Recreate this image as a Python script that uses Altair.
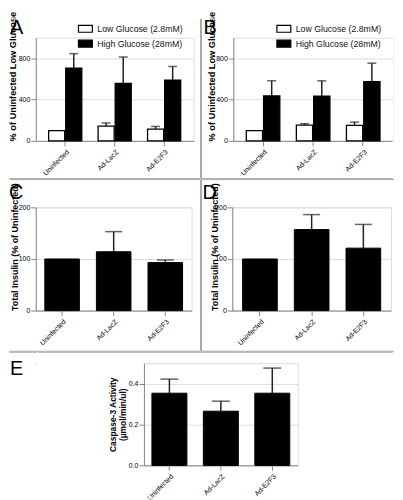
import altair as alt
import pandas as pd

GROUPS = ["Uninfected", "Ad-LacZ", "Ad-E2F3"]
CONDITIONS = ["Low Glucose (2.8mM)", "High Glucose (28mM)"]

A_LOW = [100, 143, 114]
A_LOW_SEM = [0, 31, 26]
A_HIGH = [704, 556, 589]
A_HIGH_SEM = [141, 257, 132]

B_LOW = [100, 152, 150]
B_LOW_SEM = [0, 14, 32]
B_HIGH = [436, 434, 574]
B_HIGH_SEM = [147, 148, 179]

C_MEAN = [100, 114, 93]
C_SEM = [0, 39, 5]
D_MEAN = [100, 157, 121]
D_SEM = [0, 29, 46]
E_MEAN = [0.353, 0.265, 0.353]
E_SEM = [0.069, 0.049, 0.123]

AB_TICKS = [0, 200, 400, 600, 800, 1000]
CD_TICKS = [0, 50, 100, 150, 200]
E_TICKS = [0.0, 0.1, 0.2, 0.3, 0.4, 0.5]

AB_TITLE = "% of Uninfected Low Glucose"
CD_TITLE = "Total Insulin (% of Uninfected)"
E_TITLE = ["Caspase-3 Activity", "(µmol/min/ul)"]

FONT = "Liberation Sans"
SEP = "#a8a8a8"
W = "white"
ONE = pd.DataFrame({"k": [0]})


def hrule(x0, x1, y, color):
    return alt.Chart(ONE).mark_rule(color=color, strokeWidth=1).encode(
        x=alt.value(x0), x2=alt.value(x1), y=alt.value(y))


def vrule(x, y0, y1, color):
    return alt.Chart(ONE).mark_rule(color=color, strokeWidth=1).encode(
        x=alt.value(x), y=alt.value(y0), y2=alt.value(y1))


def frame(x0, x1, y0, y1, top, bottom, left, right):
    return [
        hrule(x0, x1, y0, top),
        hrule(x0, x1, y1, bottom),
        vrule(x0, y0, y1, left),
        vrule(x1, y0, y1, right),
    ]


def letter(txt, x, y):
    return alt.Chart(ONE).mark_text(
        text=txt, font=FONT, fontSize=20, align="left", baseline="alphabetic", color="black"
    ).encode(x=alt.value(x), y=alt.value(y))


def x_axis():
    return alt.Axis(title=None, labelAngle=-45, labelAlign="right", labelBaseline="top",
                    labelFontSize=7, labelPadding=2, labelOverlap=False)


def y_axis(ticks, title, tx, ty, align="left", fmt=None, fsize=9.3):
    kw = {}
    if fmt:
        kw["format"] = fmt
    return alt.Axis(values=ticks, title=title, titleX=tx, titleY=ty, titleAngle=270,
                    titleAlign=align, titleBaseline="top", titleFontSize=fsize,
                    titleLineHeight=10, labelOverlap=False, labelBound=False,
                    labelFontSize=7, labelPadding=1, labelColor="black", **kw)


def grouped(low, low_sem, high, high_sem, width, tx, leg_x, ltr, lx, cell):
    df = pd.DataFrame({
        "group": GROUPS * 2,
        "cond": [CONDITIONS[0]] * 3 + [CONDITIONS[1]] * 3,
        "value": low + high,
        "upper": [m + s for m, s in zip(low + high, low_sem + high_sem)],
    })
    x = alt.X("group:N", sort=GROUPS, axis=x_axis(),
              scale=alt.Scale(paddingInner=0.33, paddingOuter=0.26))
    xo = alt.XOffset("cond:N", sort=CONDITIONS, scale=alt.Scale(paddingInner=0.06))
    ysc = alt.Scale(domain=[0, 1000], nice=False)
    base = alt.Chart(df)
    bars = base.mark_bar(stroke="black", strokeWidth=1.3).encode(
        x=x, xOffset=xo,
        y=alt.Y("value:Q", scale=ysc, axis=y_axis(AB_TICKS, AB_TITLE, tx, 104)),
        fill=alt.Fill("cond:N", sort=CONDITIONS,
                      scale=alt.Scale(domain=CONDITIONS, range=["white", "black"]),
                      legend=alt.Legend(title=None, orient="none", legendX=leg_x, legendY=-13.5,
                                        symbolType="M-2,-1H2V1H-2Z", symbolSize=49,
                                        symbolStrokeColor="black", symbolStrokeWidth=1.2,
                                        labelFontSize=8.8, labelFont=FONT, labelColor="#111",
                                        labelOffset=7.5, rowPadding=2, padding=0)),
    )
    errs = base.transform_filter("datum.upper > datum.value")
    rule = errs.mark_rule(color="#222", strokeWidth=1.5).encode(
        x=x, xOffset=xo, y=alt.Y("value:Q", scale=ysc), y2="upper:Q")
    cap = errs.mark_tick(color="#222", thickness=1.5, size=9).encode(
        x=x, xOffset=xo, y=alt.Y("upper:Q", scale=ysc))
    return alt.layer(*frame(*cell), rule, bars, cap, letter(ltr, lx, -4)).properties(
        width=width, height=104)


def simple(means, sems, ticks, title, domain, width, height, tx, ty, cell,
           pin, pout, cap_size, ltr=None, lx=0, ly=0, align="left", fmt=None, fsize=9.0):
    df = pd.DataFrame({
        "group": GROUPS,
        "value": means,
        "upper": [m + s for m, s in zip(means, sems)],
    })
    x = alt.X("group:N", sort=GROUPS, axis=x_axis(),
              scale=alt.Scale(paddingInner=pin, paddingOuter=pout))
    ysc = alt.Scale(domain=domain, nice=False)
    base = alt.Chart(df)
    bars = base.mark_bar(fill="black", stroke="black", strokeWidth=1).encode(
        x=x, y=alt.Y("value:Q", scale=ysc,
                     axis=y_axis(ticks, title, tx, ty, align=align, fmt=fmt, fsize=fsize)))
    errs = base.transform_filter("datum.upper > datum.value")
    rule = errs.mark_rule(color="#222", strokeWidth=1.5).encode(
        x=x, y=alt.Y("value:Q", scale=ysc), y2="upper:Q")
    cap = errs.mark_tick(color="#222", thickness=1.5, size=cap_size).encode(
        x=x, y=alt.Y("upper:Q", scale=ysc))
    layers = frame(*cell) + [rule, bars, cap]
    if ltr:
        layers.append(letter(ltr, lx, ly))
    return alt.layer(*layers).properties(width=width, height=height)


A = grouped(A_LOW, A_LOW_SEM, A_HIGH, A_HIGH_SEM, 159, -27, 45.5, "A", -26,
            (-27, 166, -19, 142, W, SEP, W, SEP))
B = grouped(B_LOW, B_LOW_SEM, B_HIGH, B_HIGH_SEM, 161, -26, 46.5, "B", -30,
            (-32, 161, -19, 142, W, SEP, SEP, W))
C = simple(C_MEAN, C_SEM, CD_TICKS, CD_TITLE, [0, 200], 157, 104, -25, 104,
           (-27, 166, -28, 145, SEP, SEP, W, SEP), 0.33, 0.175, 17, "C", -27, -8)
D = simple(D_MEAN, D_SEM, CD_TICKS, CD_TITLE, [0, 200], 160, 104, -22, 104,
           (-31, 163, -28, 145, SEP, SEP, SEP, W), 0.33, 0.2, 17, "D", -30, -8)
E = simple(E_MEAN, E_SEM, E_TICKS, E_TITLE, [0, 0.5], 155, 103, -36, 51.5,
           (-107, 251, -11, 136, SEP, W, W, W), 0.32, 0.155, 18,
           align="center", fmt=".1f", fsize=8.5)
SPACER = alt.layer(
    hrule(-27, 1, -11, SEP), vrule(-27, -11, 136, W), letter("E", -26, 12)
).properties(width=1, height=1)

RES = dict(x="independent", y="independent")

row1 = alt.hconcat(A, B, spacing=-1).resolve_scale(
    fill="independent", xOffset="independent", **RES).resolve_legend(fill="independent")
row2 = alt.hconcat(C, D, spacing=-1).resolve_scale(**RES)
row3 = alt.hconcat(SPACER, E, spacing=-1).resolve_scale(**RES)

chart = alt.vconcat(row1, row2, row3, spacing=-1).resolve_scale(
    fill="independent", xOffset="independent", **RES).resolve_legend(fill="independent")
chart = chart.properties(padding=0).configure_view(stroke=None).configure_axis(
    domainColor="black", domainWidth=1.5, tickColor="black", tickWidth=1.5, tickSize=3,
    labelFont=FONT, labelFontSize=7, labelColor="#222", labelPadding=1.5,
    titleFont=FONT, titleFontWeight="normal", titleColor="#222", grid=False,
).configure(font=FONT)

chart.save("out.html", embed_options={"renderer": "svg", "actions": False})
